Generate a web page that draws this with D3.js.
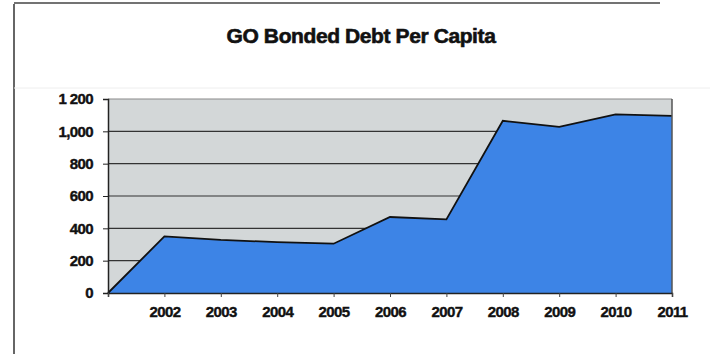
<!DOCTYPE html>
<html><head><meta charset="utf-8">
<script src="https://cdn.jsdelivr.net/npm/d3@7/dist/d3.min.js"></script>
<style>body{margin:0;background:#fff;}svg{display:block;}</style>
</head><body>
<svg id="c" width="710" height="354"></svg>
<script>
const years = ["2001","2002","2003","2004","2005","2006","2007","2008","2009","2010","2011"];
const debtPerCapita = [0, 350, 328, 315, 305, 470, 455, 1065, 1028, 1105, 1095];
const yTicks = [0, 200, 400, 600, 800, 1000, 1200];
const yTickLabels = ["0","200","400","600","800","1,000","1 200"];
const title = "GO Bonded Debt Per Capita";

const svg = d3.select("#c");
const m = {l:108, r:672, t:99, b:293};
const font = "Liberation Sans, Arial, sans-serif";

// frame
svg.append("line").attr("x1",14).attr("x2",14).attr("y1",4).attr("y2",354).attr("stroke","#333").attr("stroke-width",1.5);
svg.append("line").attr("x1",14).attr("x2",660).attr("y1",3).attr("y2",3).attr("stroke","#444").attr("stroke-width",1.5);
svg.append("line").attr("x1",14).attr("x2",710).attr("y1",88).attr("y2",88).attr("stroke","#eee").attr("stroke-width",1);

svg.append("text").attr("x",361).attr("y",43).attr("text-anchor","middle")
  .attr("font-family",font).attr("font-weight","bold")
  .attr("font-size",21).attr("letter-spacing","-0.4").attr("fill","#111")
  .attr("stroke","#111").attr("stroke-width",0.6).text(title);

const x = d3.scalePoint().domain(years).range([m.l, m.r]);
const y = d3.scaleLinear().domain([0,1200]).range([m.b, m.t]);

// plot bg
svg.append("rect").attr("x",m.l).attr("y",m.t).attr("width",m.r-m.l).attr("height",m.b-m.t).attr("fill","#d3d7d8");

// grid
svg.append("g").selectAll("line").data(yTicks.slice(1)).join("line")
  .attr("x1",m.l).attr("x2",m.r).attr("y1",d=>y(d)).attr("y2",d=>y(d))
  .attr("stroke",d=>d===1200?"#8a8a8a":"#333").attr("stroke-width",1.2);

// area
const pts = years.map((yr,i)=>({yr, v:debtPerCapita[i]}));
svg.append("path").datum(pts)
  .attr("d", d3.area().x(d=>x(d.yr)).y0(y(0)).y1(d=>y(d.v)))
  .attr("fill","#3d84e6");
svg.append("path").datum(pts)
  .attr("d", d3.line().x(d=>x(d.yr)).y(d=>y(d.v)))
  .attr("fill","none").attr("stroke","#111").attr("stroke-width",1.8);
svg.append("line").attr("x1",m.r).attr("x2",m.r).attr("y1",m.t).attr("y2",m.b).attr("stroke","#555").attr("stroke-width",1.5);

// axes
const ya = svg.append("g").attr("transform",`translate(${m.l},0)`)
  .call(d3.axisLeft(y).tickValues(yTicks).tickSize(5).tickPadding(10).tickFormat((d,i)=>yTickLabels[i]));
ya.select(".domain").attr("stroke","#222").attr("stroke-width",1.5);
ya.selectAll("line").attr("stroke","#222");
ya.selectAll("text").attr("font-family",font).attr("font-weight","bold").attr("font-size",15).attr("letter-spacing","-0.6").attr("fill","#111").attr("stroke","#111").attr("stroke-width",0.4);

const xa = svg.append("g").attr("transform",`translate(0,${m.b})`)
  .call(d3.axisBottom(x).tickSize(4).tickPadding(9).tickFormat(d=>d==="2001"?"":d));
xa.select(".domain").attr("stroke","#222").attr("stroke-width",1.5);
xa.selectAll("line").attr("stroke","#444");
xa.selectAll("text").attr("font-family",font).attr("font-weight","bold").attr("font-size",15).attr("letter-spacing","-0.6").attr("fill","#111").attr("stroke","#111").attr("stroke-width",0.4);
</script>
</body></html>
